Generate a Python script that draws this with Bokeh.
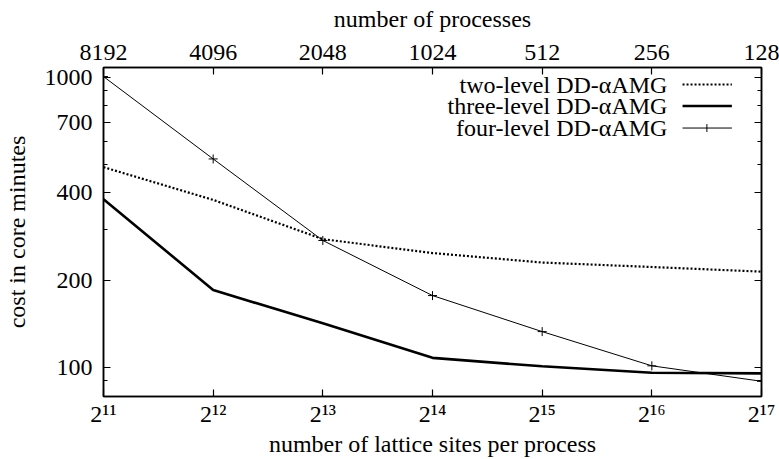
from bokeh.plotting import figure
from bokeh.models import FixedTicker, LogAxis, PrintfTickFormatter, Label, Arrow
from bokeh.embed import file_html
from bokeh.resources import INLINE

# ---- data ----
sites = [2048, 4096, 8192, 16384, 32768, 65536, 131072]
site_labels = ["2¹¹", "2¹²", "2¹³", "2¹⁴", "2¹⁵", "2¹⁶", "2¹⁷"]
processes = ["8192", "4096", "2048", "1024", "512", "256", "128"]
two_level = [490, 378, 277, 248, 230, 222, 214]
three_level = [380, 185, 142, 108, 101, 96, 95.5]
four_level = [1005, 523, 274, 177, 133, 101.4, 89.7]
y_major = [100, 200, 400, 700, 1000]
y_minor = [90, 300, 500, 600, 800, 900]
names = ["two-level DD-αAMG", "three-level DD-αAMG", "four-level DD-αAMG"]

FONT = "Liberation Serif"
FS = "24px"
XR = (2048, 131072)
YR = (79.5, 1080)

p = figure(width=779, height=459, x_axis_type="log", y_axis_type="log",
           x_range=XR, y_range=YR, output_backend="svg", toolbar_location=None,
           min_border_left=102, min_border_right=18, min_border_top=67,
           min_border_bottom=62, background_fill_color="white",
           border_fill_color="white")
p.grid.visible = False
p.outline_line_color = "black"
p.outline_line_width = 1.5

def style(ax):
    ax.axis_line_width = 1.5
    ax.major_tick_in = 7
    ax.major_tick_out = 0
    ax.minor_tick_in = 4
    ax.minor_tick_out = 0
    ax.major_tick_line_width = 1.2
    ax.minor_tick_line_width = 1.2
    ax.major_label_text_font = FONT
    ax.major_label_text_font_size = FS
    ax.major_label_text_color = "black"
    ax.axis_label_text_font = FONT
    ax.axis_label_text_font_size = FS
    ax.axis_label_text_font_style = "normal"
    ax.axis_label_text_color = "black"

xa = p.xaxis[0]
xa.ticker = FixedTicker(ticks=sites, minor_ticks=[])
xa.major_label_overrides = {s: l for s, l in zip(sites, site_labels)}
xa.axis_label = "number of lattice sites per process"
style(xa)
xa.major_label_standoff = 4
xa.axis_label_standoff = 1

ya = p.yaxis[0]
ya.ticker = FixedTicker(ticks=y_major, minor_ticks=y_minor)
ya.formatter = PrintfTickFormatter(format="%d")
ya.axis_label = "cost in core minutes"
style(ya)
ya.major_label_standoff = 11
ya.axis_label_standoff = 12

top = LogAxis(ticker=FixedTicker(ticks=sites, minor_ticks=[]),
              major_label_overrides={s: l for s, l in zip(sites, processes)},
              axis_label="number of processes")
style(top)
top.major_label_standoff = 8
top.axis_label_standoff = 10
p.add_layout(top, "above")

right = LogAxis(ticker=FixedTicker(ticks=y_major, minor_ticks=y_minor),
                major_label_overrides={t: "" for t in y_major})
style(right)
right.major_label_standoff = 0
p.add_layout(right, "right")

# ---- series ----
p.line(sites, two_level, line_color="black", line_width=2.2, line_dash="2 2")
p.line(sites, three_level, line_color="black", line_width=2.6)
p.line(sites, four_level, line_color="black", line_width=1)
p.scatter(sites, four_level, marker="cross", size=9, line_color="black", line_width=1)

# ---- legend (gnuplot style: text right-aligned, sample on right) ----
def fx(f):
    return XR[0] * (XR[1] / XR[0]) ** f

def fy(f):
    return YR[0] * (YR[1] / YR[0]) ** f

rows = [0.948, 0.883, 0.816]
styles = [dict(line_width=2.0, line_dash="2 2"), dict(line_width=2.6), dict(line_width=1)]
for name, r, st in zip(names, rows, styles):
    p.add_layout(Label(x=fx(0.857), y=fy(r), text=name, text_align="right",
                       text_baseline="middle", text_font=FONT, text_font_size=FS,
                       text_color="black"))
    p.add_layout(Arrow(x_start=fx(0.880), y_start=fy(r), x_end=fx(0.955), y_end=fy(r),
                       end=None, line_color="black", **st))
# plus marker on four-level sample
p.add_layout(Arrow(x_start=fx(0.917), y_start=fy(rows[2] - 0.012), x_end=fx(0.917),
                   y_end=fy(rows[2] + 0.012), end=None, line_color="black", line_width=1))

open("out.html", "w").write(file_html(p, INLINE))
